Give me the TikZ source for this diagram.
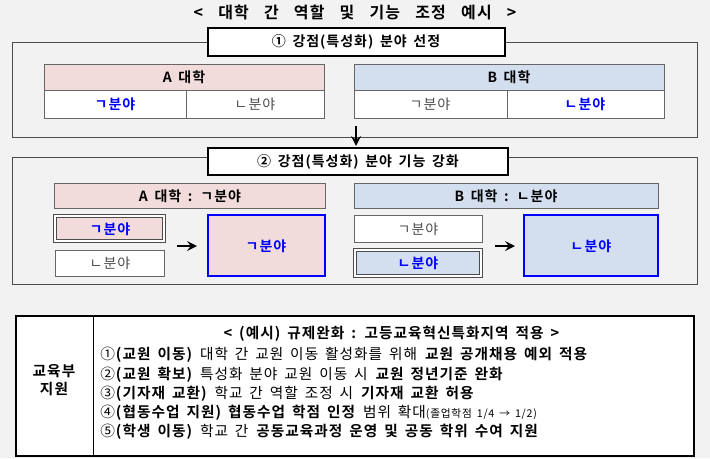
\documentclass[tikz,border=0pt]{standalone}
\usepackage{fontspec}
\setmainfont{Noto Sans CJK KR}[BoldFont={Noto Sans CJK KR Bold}, LetterSpace=7, WordSpace=1.6]
\usetikzlibrary{positioning}
\definecolor{pinkA}{HTML}{F2DCDB}
\definecolor{blueB}{HTML}{D3DFEE}
\definecolor{bgray}{HTML}{F2F2F2}
\definecolor{fieldblue}{HTML}{0000FF}
\tikzset{
  frame/.style={draw=black!70, line width=0.6pt},
  head/.style={draw, fill=white, line width=0.8pt},
  cell/.style={draw=black!60, line width=0.6pt},
  dcell/.style={cell, double=white, double distance=1.2pt, draw=black!70},
  big/.style={draw=fieldblue, line width=1pt},
  bf/.style={font=\bfseries\fontsize{10.5}{12}\selectfont},
  rg/.style={font=\fontsize{10.5}{12}\selectfont, text=black!70},
  go/.style={->, >=stealth, line width=2.2pt},
  item/.style={anchor=west, inner sep=0pt, font=\fontsize{11}{12}\selectfont}
}
\begin{document}
\begin{tikzpicture}[x=0.75pt, y=-0.75pt]
  \useasboundingbox[fill=bgray] (0,0) rectangle (710,458);
  \node (title) at (355,12) {\bfseries\fontsize{12}{13}\selectfont <\ \ 대학\ \ 간\ \ 역할\ \ 및\ \ 기능\ \ 조정\ \ 예시\ \ >};
  % step 1
  \draw[frame] (12,42) rectangle (697,137);
  \draw[head] (208,28) rectangle (505,56);
  \node (h1) at (356,42) [bf] {① 강점(특성화) 분야 선정};
  \draw[cell, fill=pinkA] (44,64) rectangle (324,90);
  \node (a1) at (184,77) [bf] {A 대학};
  \draw[cell, fill=white] (44,90) rectangle (186,118);
  \draw[cell, fill=white] (186,90) rectangle (324,118);
  \node (a1g) at (115,104) [bf, text=fieldblue] {ㄱ분야};
  \node (a1n) at (255,104) [rg] {ㄴ분야};
  \draw[cell, fill=blueB] (354,64) rectangle (664,90);
  \node (b1) at (509,77) [bf] {B 대학};
  \draw[cell, fill=white] (354,90) rectangle (507,118);
  \draw[cell, fill=white] (507,90) rectangle (664,118);
  \node (b1g) at (430,104) [rg] {ㄱ분야};
  \node (b1n) at (585,104) [bf, text=fieldblue] {ㄴ분야};
  % arrow between steps
  \coordinate (d1) at (356,126);
  \coordinate (d2) at (356,146);
  \draw[go] (d1) -- (d2);
  % step 2
  \draw[frame] (12,157) rectangle (697,284);
  \draw[head] (208,148) rectangle (508,175);
  \node (h2) at (358,162) [bf] {② 강점(특성화) 분야 기능 강화};
  \draw[cell, fill=pinkA] (54,183) rectangle (325,208);
  \node (a2) at (190,196) [bf] {A 대학 : ㄱ분야};
  \draw[dcell, fill=pinkA] (55,216) rectangle (164,241);
  \node (a2g) at (110,229) [bf, text=fieldblue] {ㄱ분야};
  \draw[cell, fill=white] (55,250) rectangle (164,276);
  \node (a2n) at (110,263) [rg] {ㄴ분야};
  \draw[big, fill=pinkA] (208,215) rectangle (325,276);
  \node (a2b) at (266,246) [bf, text=fieldblue] {ㄱ분야};
  \coordinate (ar1) at (177,246);
  \coordinate (ar2) at (197,246);
  \draw[go] (ar1) -- (ar2);
  \draw[cell, fill=blueB] (354,183) rectangle (658,208);
  \node (b2) at (506,196) [bf] {B 대학 : ㄴ분야};
  \draw[cell, fill=white] (354,215) rectangle (482,242);
  \node (b2g) at (418,229) [rg] {ㄱ분야};
  \draw[dcell, fill=blueB] (355,250) rectangle (481,276);
  \node (b2n) at (418,263) [bf, text=fieldblue] {ㄴ분야};
  \draw[big, fill=blueB] (524,215) rectangle (658,276);
  \node (b2b) at (591,246) [bf, text=fieldblue] {ㄴ분야};
  \coordinate (br1) at (495,246);
  \coordinate (br2) at (515,246);
  \draw[go] (br1) -- (br2);
  % ministry support
  \draw[line width=0.8pt, fill=white] (16,316) rectangle (694,456);
  \draw[line width=0.6pt] (93,316) -- (93,456);
  \node (mo) at (54,380) [align=center, font=\bfseries\fontsize{11}{14}\selectfont] {교육부\\지원};
  \node (st) at (392,334) [font=\fontsize{11}{12}\selectfont] {\textbf{< (예시) 규제완화 : 고등교육혁신특화지역 적용 >}};
  \node (i1) at (100,355) [item] {①\textbf{(교원 이동)} 대학 간 교원 이동 활성화를 위해 \textbf{교원 공개채용 예외 적용}};
  \node (i2) at (100,375) [item] {②\textbf{(교원 확보)} 특성화 분야 교원 이동 시 \textbf{교원 정년기준 완화}};
  \node (i3) at (100,394) [item] {③\textbf{(기자재 교환)} 학교 간 역할 조정 시 \textbf{기자재 교환 허용}};
  \node (i4) at (100,413) [item] {④\textbf{(협동수업 지원) 협동수업 학점 인정} 범위 확대{\fontsize{8}{9}\selectfont(졸업학점 1/4 → 1/2)}};
  \node (i5) at (100,432) [item] {⑤\textbf{(학생 이동)} 학교 간 \textbf{공동교육과정 운영 및 공동 학위 수여 지원}};
\end{tikzpicture}
\end{document}
